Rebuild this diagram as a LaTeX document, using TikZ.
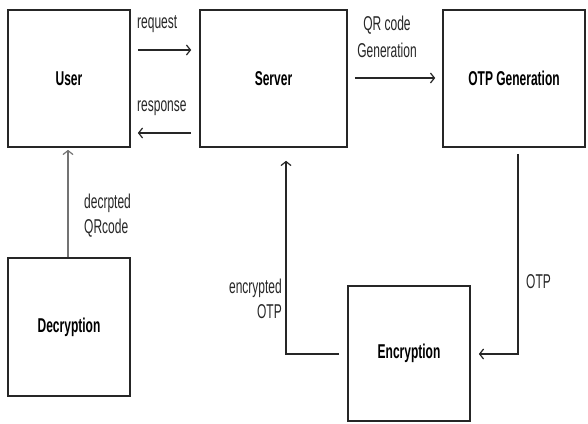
\documentclass[tikz,border=0pt]{standalone}
\usepackage{fontspec}
\setmainfont{Liberation Sans}[FakeStretch=0.6]
\usetikzlibrary{arrows.meta}
\begin{document}
\begin{tikzpicture}[x=1pt,y=-1pt,
  font=\fontsize{20}{25}\selectfont,
  box/.style={draw=black!85, line width=1.6pt, fill=white, font=\fontsize{20}{25}\selectfont\bfseries, align=center, inner sep=0pt},
  arr/.style={line width=1.3pt, draw=black!85, -{Straight Barb[length=4pt,width=10pt,line width=1.2pt]}},
  lbl/.style={inner sep=0pt, text=black!85}]
\useasboundingbox (0,0) rectangle (588,423);
% boxes
\node[box, minimum width=122pt, minimum height=137pt] (user) at (69,78.5) {User};
\node[box, minimum width=147pt, minimum height=137pt] (server) at (273.5,78.5) {Server};
\node[box, minimum width=142pt, minimum height=137pt] (otpgen) at (514,78.5) {OTP Generation};
\node[box, minimum width=122pt, minimum height=138pt] (decr) at (69,327) {Decryption};
\node[box, minimum width=122pt, minimum height=135pt] (encr) at (409,353.5) {Encryption};
% helper coordinates
\coordinate (yreq) at (0,50);
\coordinate (yres) at (0,133);
\coordinate (yqr) at (0,78);
\coordinate (xdec) at (68,0);
\coordinate (ybot) at (0,354);
\coordinate (xsrv) at (286,0);
\coordinate (xotp) at (518,0);
\coordinate (c1) at (xsrv |- ybot);
\coordinate (c2) at (xotp |- ybot);
% connectors
\draw[arr, shorten <=7pt, shorten >=8pt] (user.east |- yreq) -- (server.west |- yreq);
\draw[arr, shorten <=8pt, shorten >=7pt] (server.west |- yres) -- (user.east |- yres);
\draw[arr, shorten <=7pt, shorten >=7pt] (server.east |- yqr) -- (otpgen.west |- yqr);
\draw[arr, draw=black!55, shorten >=2pt] (decr.north -| xdec) -- (user.south -| xdec);
\draw[arr, shorten <=8pt, shorten >=13pt] (encr.west |- ybot) -- (c1) -- (server.south -| xsrv);
\draw[arr, shorten <=6pt, shorten >=8pt] (otpgen.south -| xotp) -- (c2) -- (encr.east |- ybot);
% labels
\node[lbl, anchor=west] (lreq) at (137,24) {request};
\node[lbl, anchor=west] (lres) at (137,108) {response};
\node[lbl, align=center] (lqr) at (387,37) {QR code\\[2pt]Generation};
\node[lbl, align=left, anchor=west] (ldec) at (84,216) {decrpted\\QRcode};
\node[lbl, align=right, anchor=east] (lenc) at (282,299) {encrypted\\OTP};
\node[lbl, anchor=west] (lotp) at (526,282) {OTP};
\end{tikzpicture}
\end{document}
